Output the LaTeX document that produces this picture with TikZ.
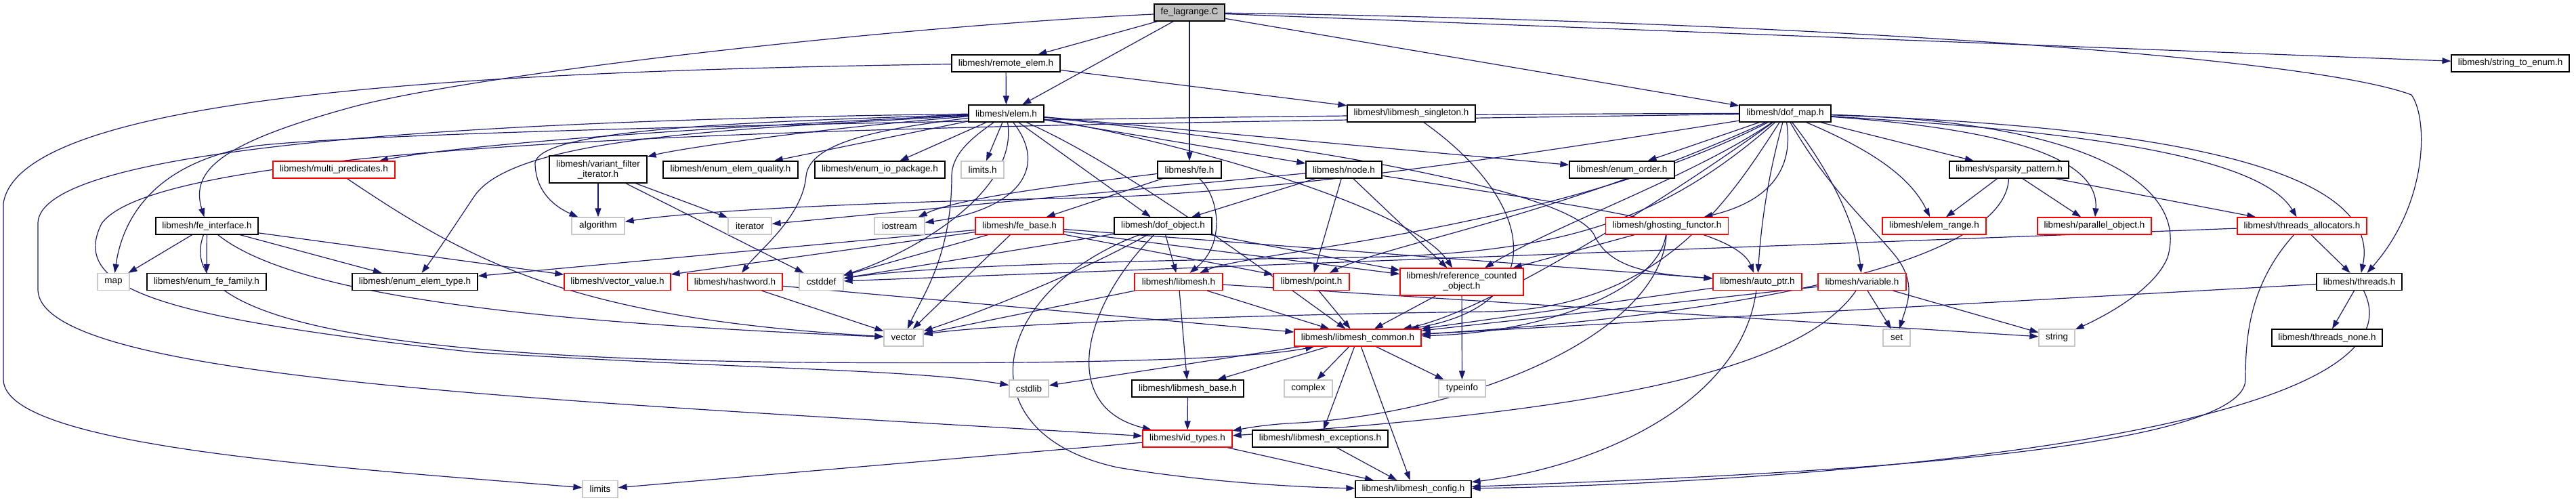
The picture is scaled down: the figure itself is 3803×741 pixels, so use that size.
\documentclass[tikz,border=0pt]{standalone}
\usepackage{fontspec}
\setmainfont{Liberation Sans}
\usetikzlibrary{arrows.meta,backgrounds}
\definecolor{depblue}{RGB}{25,25,112}
\definecolor{sysgray}{RGB}{200,200,200}
\definecolor{rootgray}{RGB}{191,191,191}
\tikzset{
  hdr/.style={draw=black, fill=white, line width=1.2pt, minimum height=25pt, inner sep=0pt, font=\fontsize{13.5}{15}\selectfont},
  trunc/.style={hdr, draw=red},
  sys/.style={hdr, draw=sysgray},
  dep/.style={->, draw=depblue, line width=1.2pt},
}
\begin{document}
\begin{tikzpicture}[x=1pt, y=-1pt, >={Stealth[length=13pt,width=9pt,inset=0pt]}]
  \useasboundingbox (0,0) rectangle (3803,741);
  % ranks 0-2
  \node[hdr, fill=rootgray, minimum width=104pt] (root) at (1756,18.5) {fe\_lagrange.C};
  \node[hdr, minimum width=160pt] (remote) at (1485,93.5) {libmesh/remote\_elem.h};
  \node[hdr, minimum width=174pt] (stoenum) at (3706,93.5) {libmesh/string\_to\_enum.h};
  \node[hdr, minimum width=111pt] (elem) at (1485.5,167.5) {libmesh/elem.h};
  \node[hdr, minimum width=189pt] (singleton) at (2083.5,167.5) {libmesh/libmesh\_singleton.h};
  \node[hdr, minimum width=135pt] (dofmap) at (2635.5,167.5) {libmesh/dof\_map.h};
  % rank 3
  \node[trunc, minimum width=180pt] (multipred) at (493,250.5) {libmesh/multi\_predicates.h};
  \node[hdr, minimum width=144pt, minimum height=40pt, align=center] (variant) at (883,250) {libmesh/variant\_filter\\\_iterator.h};
  \node[hdr, minimum width=199pt] (quality) at (1078.5,250.5) {libmesh/enum\_elem\_quality.h};
  \node[hdr, minimum width=192pt] (iopkg) at (1299,250.5) {libmesh/enum\_io\_package.h};
  \node[sys, minimum width=63pt] (limitsh) at (1450.5,250.5) {limits.h};
  \node[hdr, minimum width=94pt] (fe) at (1756,250.5) {libmesh/fe.h};
  \node[hdr, minimum width=112pt] (nodeh) at (1984,250.5) {libmesh/node.h};
  \node[hdr, minimum width=155pt] (order) at (2394.5,250.5) {libmesh/enum\_order.h};
  \node[hdr, minimum width=176pt] (sparsity) at (2966,250.5) {libmesh/sparsity\_pattern.h};
  % rank 4
  \node[hdr, minimum width=151pt] (feiface) at (305.5,333.5) {libmesh/fe\_interface.h};
  \node[sys, minimum width=78pt] (algorithm) at (883,333.5) {algorithm};
  \node[sys, minimum width=64pt] (iterator) at (1107,333.5) {iterator};
  \node[sys, minimum width=74pt] (iostream) at (1328,333.5) {iostream};
  \node[trunc, minimum width=130pt] (febase) at (1505,333.5) {libmesh/fe\_base.h};
  \node[hdr, minimum width=144pt] (dofobj) at (1717,333.5) {libmesh/dof\_object.h};
  \node[trunc, minimum width=181pt] (ghosting) at (2461,333.5) {libmesh/ghosting\_functor.h};
  \node[trunc, minimum width=153pt] (elemrange) at (2855.5,333.5) {libmesh/elem\_range.h};
  \node[trunc, minimum width=168pt] (parobj) at (3092,333.5) {libmesh/parallel\_object.h};
  \node[trunc, minimum width=191pt] (threadsalloc) at (3398.5,333.5) {libmesh/threads\_allocators.h};
  % rank 5
  \node[sys, minimum width=47pt] (map) at (167.5,416) {map};
  \node[hdr, minimum width=176pt] (fefamily) at (305,416) {libmesh/enum\_fe\_family.h};
  \node[hdr, minimum width=185pt] (elemtype) at (612.5,416) {libmesh/enum\_elem\_type.h};
  \node[trunc, minimum width=157pt] (vecvalue) at (911.5,416) {libmesh/vector\_value.h};
  \node[trunc, minimum width=140pt] (hashword) at (1085,416) {libmesh/hashword.h};
  \node[sys, minimum width=65pt] (cstddef) at (1212.5,416) {cstddef};
  \node[trunc, minimum width=130pt] (libmesh) at (1740,416) {libmesh/libmesh.h};
  \node[trunc, minimum width=112pt] (point) at (1936,416) {libmesh/point.h};
  \node[trunc, minimum width=182pt, minimum height=40pt, align=center] (refcount) at (2158,416) {libmesh/reference\_counted\\\_object.h};
  \node[trunc, minimum width=131pt] (autoptr) at (2594.5,416) {libmesh/auto\_ptr.h};
  \node[trunc, minimum width=130pt] (variable) at (2749,416) {libmesh/variable.h};
  \node[hdr, minimum width=126pt] (threads) at (3483,416) {libmesh/threads.h};
  % rank 6
  \node[sys, minimum width=58pt] (vector) at (1334,498.5) {vector};
  \node[trunc, minimum width=187pt] (common) at (2004.5,498.5) {libmesh/libmesh\_common.h};
  \node[sys, minimum width=40pt] (set) at (2800,498.5) {set};
  \node[sys, minimum width=53pt] (string) at (3036.5,498.5) {string};
  \node[hdr, minimum width=163pt] (threadsnone) at (3435.5,498.5) {libmesh/threads\_none.h};
  % rank 7
  \node[sys, minimum width=58pt] (cstdlib) at (1519,573.5) {cstdlib};
  \node[hdr, minimum width=165pt] (base) at (1753.5,573.5) {libmesh/libmesh\_base.h};
  \node[sys, minimum width=71pt] (complex) at (1931.5,573.5) {complex};
  \node[sys, minimum width=69pt] (typeinfo) at (2158.5,573.5) {typeinfo};
  % rank 8-9
  \node[trunc, minimum width=132pt] (idtypes) at (1753,647.5) {libmesh/id\_types.h};
  \node[hdr, minimum width=200pt] (exceptions) at (1949,647.5) {libmesh/libmesh\_exceptions.h};
  \node[sys, minimum width=52pt] (limits) at (886,722) {limits};
  \node[hdr, minimum width=171pt] (config) at (2086.5,722) {libmesh/libmesh\_config.h};

  \begin{pgfonlayer}{background}
  % fe_lagrange.C
  \draw[dep] (root) -- (remote);
  \draw[dep] (root) -- (elem);
  \draw[dep] (root) -- (fe);
  \draw[dep] (root) -- (dofmap);
  \draw[dep] (root) -- (stoenum);
  \draw[dep] (root) .. controls (2600,30) and (3400,80) .. (3560,140) .. controls (3585,175) and (3585,300) .. (threads);
  \draw[dep] (root) .. controls (1300,40) and (700,110) .. (520,158) .. controls (330,210) and (280,250) .. (feiface);
  % remote_elem.h
  \draw[dep] (remote) -- (elem);
  \draw[dep] (remote) -- (singleton);
  \draw[dep] (remote) .. controls (700,105) and (30,140) .. (5,300) -- (5,560) .. controls (5,660) and (500,690) .. (limits);
  \draw[dep] (singleton) .. controls (2270,300) and (2290,450) .. (common);
  % elem.h
  \draw[dep] (elem) .. controls (1100,185) and (700,210) .. (multipred);
  \draw[dep] (elem) .. controls (1200,190) and (1000,220) .. (variant);
  \draw[dep] (elem) -- (quality);
  \draw[dep] (elem) -- (iopkg);
  \draw[dep] (elem) -- (limitsh);
  \draw[dep] (elem) -- (nodeh);
  \draw[dep] (elem) -- (order);
  \draw[dep] (elem) .. controls (1100,180) and (800,190) .. (790,240) .. controls (790,290) and (830,310) .. (algorithm);
  \draw[dep] (elem) .. controls (1550,250) and (1500,310) .. (iostream);
  \draw[dep] (elem) .. controls (1505,290) and (1330,380) .. (cstddef);
  \draw[dep] (elem) .. controls (1440,200) and (1405,225) .. (1405,260) .. controls (1405,380) and (1360,440) .. (vector);
  \draw[dep] (elem) .. controls (1100,190) and (760,200) .. (700,290) .. controls (660,350) and (640,380) .. (elemtype);
  \draw[dep] (elem) .. controls (1300,190) and (1195,210) .. (1190,260) .. controls (1185,320) and (1120,370) .. (hashword);
  \draw[dep] (elem) -- (dofobj);
  \draw[dep] (elem) .. controls (1700,200) and (2080,300) .. (refcount);
  \draw[dep] (elem) .. controls (1650,240) and (1840,380) .. (common);
  \draw[dep] (elem) .. controls (900,175) and (56,200) .. (56,330) -- (56,427) .. controls (56,560) and (800,590) .. (idtypes);
  \draw[dep] (elem) .. controls (1900,210) and (2330,280) .. (2355,350) .. controls (2380,400) and (2450,405) .. (autoptr);
  % fe.h, node.h
  \draw[dep] (fe) -- (febase);
  \draw[dep] (fe) .. controls (1800,290) and (1810,360) .. (libmesh);
  \draw[dep] (fe) .. controls (1600,270) and (1420,290) .. (iostream);
  \draw[dep] (nodeh) -- (dofobj);
  \draw[dep] (nodeh) -- (point);
  \draw[dep] (nodeh) -- (refcount);
  \draw[dep] (nodeh) -- (iterator);
  \draw[dep] (nodeh) .. controls (2300,300) and (2560,330) .. (autoptr);
  % dof_map.h
  \draw[dep] (dofmap) -- (order);
  \draw[dep] (dofmap) -- (sparsity);
  \draw[dep] (dofmap) .. controls (2650,260) and (2600,300) .. (ghosting);
  \draw[dep] (dofmap) .. controls (2760,220) and (2820,260) .. (elemrange);
  \draw[dep] (dofmap) .. controls (2950,190) and (3100,230) .. (parobj);
  \draw[dep] (dofmap) .. controls (3000,190) and (3330,220) .. (threadsalloc);
  \draw[dep] (dofmap) .. controls (3150,185) and (3520,240) .. (threads);
  \draw[dep] (dofmap) .. controls (2700,250) and (2740,330) .. (variable);
  \draw[dep] (dofmap) .. controls (2610,260) and (2600,330) .. (autoptr);
  \draw[dep] (dofmap) .. controls (2500,260) and (2300,330) .. (refcount);
  \draw[dep] (dofmap) .. controls (2480,280) and (2200,460) .. (common);
  \draw[dep] (dofmap) .. controls (2300,340) and (1850,370) .. (libmesh);
  \draw[dep] (dofmap) .. controls (2300,320) and (2050,360) .. (point);
  \draw[dep] (dofmap) .. controls (2700,280) and (2760,330) .. (2800,380) .. controls (2830,420) and (2815,450) .. (set);
  \draw[dep] (dofmap) .. controls (3100,180) and (3230,280) .. (3200,380) .. controls (3180,430) and (3100,470) .. (string);
  \draw[dep] (dofmap) .. controls (1800,168) and (600,190) .. (380,215) .. controls (220,240) and (180,330) .. (map);
  \draw[dep] (dofmap) .. controls (2300,220) and (1900,285) .. (1600,292) .. controls (1200,300) and (1000,315) .. (algorithm);
  \draw[dep] (dofmap) .. controls (2550,300) and (2450,455) .. (2200,460) .. controls (1800,465) and (1450,480) .. (vector);
  \draw[dep] (dofmap) .. controls (1500,185) and (250,190) .. (150,330) .. controls (100,430) and (250,470) .. (700,520) .. controls (1100,545) and (1350,545) .. (cstdlib);
  \draw[dep] (dofmap) .. controls (2450,330) and (2300,375) .. (2000,380) .. controls (1600,385) and (1350,395) .. (cstddef);
  % sparsity_pattern.h, ghosting_functor.h
  \draw[dep] (sparsity) -- (elemrange);
  \draw[dep] (sparsity) -- (parobj);
  \draw[dep] (sparsity) -- (threadsalloc);
  \draw[dep] (sparsity) .. controls (2960,400) and (2500,470) .. (common);
  \draw[dep] (ghosting) -- (refcount);
  \draw[dep] (ghosting) .. controls (2450,420) and (2300,490) .. (common);
  \draw[dep] (ghosting) .. controls (2450,500) and (2150,615) .. (1900,625) .. controls (1860,628) and (1840,632) .. (idtypes);
  % threads
  \draw[dep] (threadsalloc) -- (threads);
  \draw[dep] (threadsalloc) .. controls (3320,420) and (3315,500) .. (3315,560) .. controls (3315,680) and (2500,705) .. (config);
  \draw[dep] (threadsalloc) -- (cstddef);
  \draw[dep] (threads) -- (threadsnone);
  \draw[dep] (threads) .. controls (3600,650) and (2600,715) .. (config);
  \draw[dep] (threads) -- (common);
  % variable.h, auto_ptr.h, reference_counted_object.h, point.h
  \draw[dep] (variable) -- (common);
  \draw[dep] (variable) -- (set);
  \draw[dep] (variable) -- (string);
  \draw[dep] (variable) .. controls (2650,560) and (2300,610) .. (idtypes);
  \draw[dep] (autoptr) .. controls (2570,600) and (2350,690) .. (config);
  \draw[dep] (autoptr) -- (common);
  \draw[dep] (refcount) -- (typeinfo);
  \draw[dep] (refcount) -- (common);
  \draw[dep] (point) -- (common);
  % libmesh.h, libmesh_common.h
  \draw[dep] (libmesh) -- (base);
  \draw[dep] (libmesh) -- (vector);
  \draw[dep] (libmesh) -- (common);
  \draw[dep] (libmesh) -- (string);
  \draw[dep] (common) -- (cstdlib);
  \draw[dep] (common) -- (base);
  \draw[dep] (common) -- (complex);
  \draw[dep] (common) -- (typeinfo);
  \draw[dep] (common) -- (exceptions);
  \draw[dep] (common) -- (config);
  \draw[dep] (base) -- (idtypes);
  \draw[dep] (exceptions) -- (config);
  \draw[dep] (idtypes) -- (limits);
  \draw[dep] (idtypes) -- (config);
  \draw[dep] (hashword) -- (vector);
  \draw[dep] (hashword) -- (common);
  % dof_object.h, fe_base.h
  \draw[dep] (dofobj) -- (libmesh);
  \draw[dep] (dofobj) .. controls (1600,450) and (1560,600) .. (idtypes);
  \draw[dep] (dofobj) .. controls (1460,430) and (1420,640) .. (1650,690) .. controls (1800,715) and (1950,720) .. (config);
  \draw[dep] (dofobj) .. controls (1600,400) and (1450,460) .. (vector);
  \draw[dep] (dofobj) -- (cstddef);
  \draw[dep] (dofobj) -- (refcount);
  \draw[dep] (febase) -- (vector);
  \draw[dep] (febase) -- (cstddef);
  \draw[dep] (febase) -- (refcount);
  \draw[dep] (febase) -- (point);
  \draw[dep] (febase) -- (autoptr);
  \draw[dep] (febase) -- (elemtype);
  \draw[dep] (febase) -- (vecvalue);
  % variant_filter_iterator.h, multi_predicates.h
  \draw[dep] (variant) -- (algorithm);
  \draw[dep] (variant) -- (iterator);
  \draw[dep] (variant) -- (cstddef);
  \draw[dep] (multipred) .. controls (700,390) and (850,470) .. (vector);
  % fe_interface.h
  \draw[dep] (feiface) -- (map);
  \draw[dep] (feiface) -- (fefamily);
  \draw[dep] (feiface) -- (elemtype);
  \draw[dep] (feiface) -- (vecvalue);
  \draw[dep] (feiface) .. controls (450,450) and (900,480) .. (vector);
  \draw[dep] (feiface) .. controls (250,480) and (600,530) .. (1200,535) .. controls (1600,538) and (1850,530) .. (common);
  \end{pgfonlayer}
\end{tikzpicture}
\end{document}
